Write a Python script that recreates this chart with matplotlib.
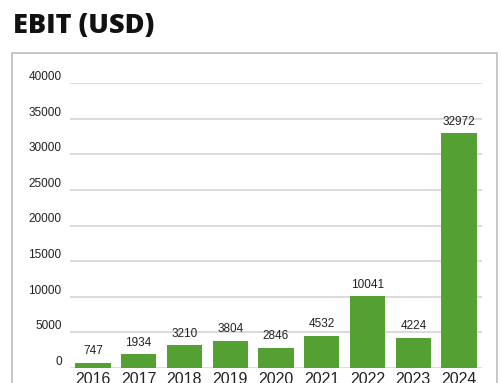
import matplotlib.pyplot as plt
from matplotlib.patches import Rectangle

# EBIT per year, USD
years = ['2016', '2017', '2018', '2019', '2020', '2021', '2022', '2023', '2024']
ebit = [747, 1934, 3210, 3804, 2846, 4532, 10041, 4224, 32972]
y_ticks = [0, 5000, 10000, 15000, 20000, 25000, 30000, 35000, 40000]

BAR_COLOR = '#55a032'
GRID_COLOR = '#d4d4d4'
TEXT_COLOR = '#222222'

plt.rcParams['font.family'] = ['Liberation Sans', 'DejaVu Sans']

fig = plt.figure(figsize=(5.02, 3.83), dpi=100)

# title
fig.text(13 / 502, 1 - 26 / 383, 'EBIT (USD)', family=['Open Sans', 'DejaVu Sans'],
         weight='heavy', fontsize=19.5, color='#111111', va='center', ha='left')

# frame around the chart area
fig.patches.append(Rectangle((12 / 502, -0.05), 485 / 502, 1 - 53 / 383 + 0.05,
                             transform=fig.transFigure, fill=False,
                             edgecolor='#bdbdbd', linewidth=1.2))

ax = fig.add_axes([70 / 502, 15 / 383, 412 / 502, 285 / 383])
ax.set_facecolor('none')

x = range(len(years))
bars = ax.bar(x, ebit, width=0.77, color=BAR_COLOR, zorder=3)

# value labels above each bar
for bar, value in zip(bars, ebit):
    ax.annotate('{}'.format(value), (bar.get_x() + bar.get_width() / 2, value),
                xytext=(0, 4), textcoords='offset points', ha='center', va='bottom',
                fontsize=8.5, color=TEXT_COLOR, zorder=4)

ax.set_xlim(-0.5, len(years) - 0.5)
ax.set_ylim(0, 40000)
ax.set_xticks(list(x))
ax.set_xticklabels(years, fontsize=11.5, color=TEXT_COLOR)
ax.set_yticks(y_ticks)
ax.set_yticklabels([str(t) for t in y_ticks], fontsize=8.5, color=TEXT_COLOR)
for label in ax.get_yticklabels():
    label.set_va('bottom')

ax.tick_params(axis='both', length=0)
ax.tick_params(axis='x', pad=3)
ax.tick_params(axis='y', pad=6)
ax.yaxis.grid(True, color=GRID_COLOR, linewidth=1.2, zorder=0)
ax.set_axisbelow(True)
for side in ['top', 'right', 'left', 'bottom']:
    ax.spines[side].set_visible(False)

fig.savefig('out.png', dpi=100)
